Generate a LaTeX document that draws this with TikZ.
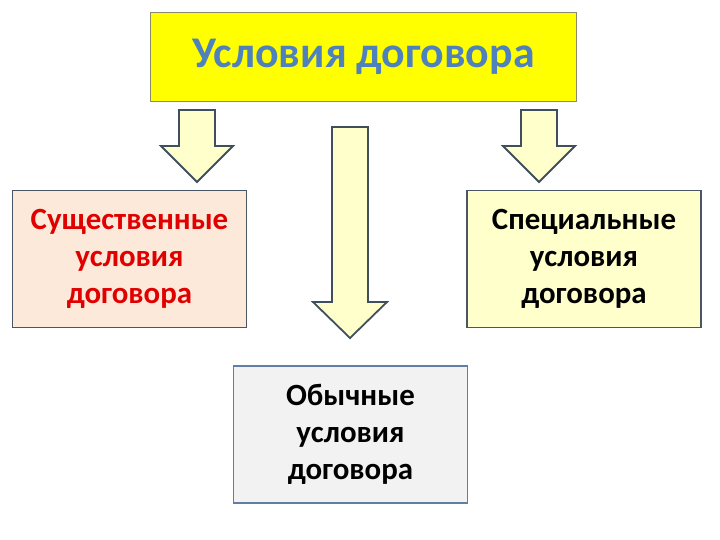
\documentclass[tikz,border=0pt]{standalone}
\usepackage{fontspec}
\setmainfont{Carlito}
\usetikzlibrary{calc}
\definecolor{title600}{HTML}{4F81BD}
\definecolor{red600}  {HTML}{E00000}
\definecolor{yell100} {HTML}{FFFF00}
\definecolor{yell50}  {HTML}{FFFFCC}
\definecolor{peach100}{HTML}{FDE9D9}
\definecolor{grey100} {HTML}{F2F2F2}
\definecolor{olive500}{HTML}{8A8A6A}
\definecolor{slate700}{HTML}{4A5664}
\definecolor{steel500}{HTML}{5F7EA8}
\definecolor{arrow700}{HTML}{3F4F5C}
\newcommand{\blockarrow}[5]{% from, to, shaft half, head half, head length
  \draw[barrow] ($(#1)+(-#3,0)$) -- ($(#2)+(-#3,-#5)$) -- ($(#2)+(-#4,-#5)$)
    -- (#2) -- ($(#2)+(#4,-#5)$) -- ($(#2)+(#3,-#5)$) -- ($(#1)+(#3,0)$)
    -- cycle;}
\tikzset{
  titlebox/.style={draw=olive500, line width=1.2pt, fill=yell100,
                   minimum width=427, minimum height=90, inner sep=0pt,
                   text=title600, font=\fontsize{44}{48}\selectfont\bfseries},
  condbox/.style ={line width=1.5pt, minimum width=235, minimum height=138,
                   inner sep=0pt, align=center,
                   font=\fontsize{31}{37}\selectfont\bfseries},
  barrow/.style  ={draw=arrow700, line width=1.8pt, fill=yell50,
                   line join=miter}
}
\begin{document}
\begin{tikzpicture}[x=1bp, y=-1bp]
\useasboundingbox[fill=white] (0,0) rectangle (720,540);
% boxes
\node[titlebox] (cond) at (363.5,57) {Условия договора};
\node[condbox, draw=slate700, fill=peach100, text=red600] (essen)
  at (129.5,259) {Существенные\\ условия\\ договора};
\node[condbox, draw=slate700, fill=yell50] (spec)
  at (584,259) {Специальные\\ условия\\ договора};
\node[condbox, draw=steel500, fill=grey100] (usual)
  at (350.5,434.5) {Обычные\\ условия\\ договора};
% block arrows
\coordinate (a1s) at (197,110);  \coordinate (a1e) at (197,182);
\coordinate (a2s) at (350,127);  \coordinate (a2e) at (350,338);
\coordinate (a3s) at (539,110);  \coordinate (a3e) at (539,182);
\blockarrow{a1s}{a1e}{18}{36}{36}
\blockarrow{a2s}{a2e}{18}{37}{36}
\blockarrow{a3s}{a3e}{18}{36}{36}
\end{tikzpicture}
\end{document}
